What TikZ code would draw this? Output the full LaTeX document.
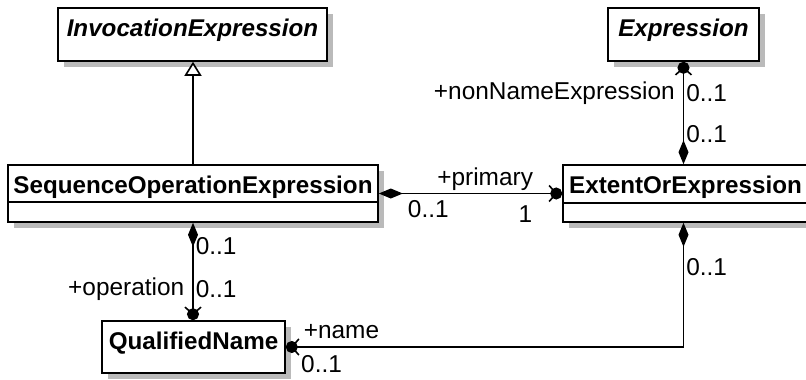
\documentclass[tikz,border=0pt]{standalone}
\usepackage{fontspec}
\setmainfont{Liberation Sans}
\usetikzlibrary{arrows.meta, shadows, positioning, calc}

\begin{document}
\begin{tikzpicture}[
  x=1pt, y=-1pt,
  font=\fontsize{24.4}{29}\selectfont,
  umlclass/.style={rectangle, draw=black, line width=1.6pt, fill=white, general shadow={fill=black!27, shadow xshift=6pt, shadow yshift=-6pt}},
  classname/.style={anchor=north, font=\fontsize{24.2}{29}\selectfont\bfseries, text height=17pt, text depth=5pt, inner ysep=12pt},
  abstractname/.style={classname, font=\fontsize{24.2}{29}\selectfont\bfseries\itshape},
  assoc/.style={line width=1.6pt, {Diamond[length=24pt,width=10pt]}-{Straight Barb[length=7pt,width=16pt,sep=-7pt]Circle[length=12pt]}},
  genarrow/.style={line width=1.6pt, -{Triangle[open,length=14pt,width=17pt,fill=white]}},
  role/.style={inner sep=2pt}
]
\useasboundingbox (0,0) rectangle (806,380);

% Classes
\node[umlclass, minimum width=269pt, minimum height=53pt] (inv) at (192.5,34.5) {};
\node[abstractname] at (inv.north) {InvocationExpression};

\node[umlclass, minimum width=151pt, minimum height=53pt] (expr) at (683.5,34.5) {};
\node[abstractname] at (expr.north) {Expression};

\node[umlclass, minimum width=370pt, minimum height=57pt] (seq) at (193,193.5) {};
\node[classname] at (seq.north) {SequenceOperationExpression};
\draw[line width=1.6pt] ([yshift=-38pt]seq.north west) -- ([yshift=-38pt]seq.north east);

\node[umlclass, minimum width=245pt, minimum height=57pt] (ext) at (685.5,193.5) {};
\node[classname] at (ext.north) {ExtentOrExpression};
\draw[line width=1.6pt] ([yshift=-39pt]ext.north west) -- ([yshift=-39pt]ext.north east);

\node[umlclass, minimum width=183pt, minimum height=52pt] (qn) at (193.5,347) {};
\node[classname] at (qn.north) {QualifiedName};

% Generalization
\draw[genarrow] (seq.north) -- (seq.north |- inv.south);

% Associations
\draw[assoc] (ext.north -| expr.south) -- (expr.south)
  node[pos=0.69, right, role] {0..1}
  node[pos=0.69, left, role, xshift=-6pt] {+nonNameExpression}
  node[pos=0.29, right, role] {0..1};

\draw[assoc] (seq.east) -- (ext.west)
  node[pos=0.58, above, role] {+primary}
  node[pos=0.27, below, role, yshift=-4pt] {0..1}
  node[pos=0.8, below, role, yshift=-9pt] {1};

\draw[assoc] (seq.south) -- (seq.south |- qn.north)
  node[pos=0.24, right, role] {0..1}
  node[pos=0.68, right, role] {0..1}
  node[pos=0.68, left, role, xshift=-6pt] {+operation};

\draw[assoc] (ext.south -| expr.south) |- (qn.east)
  node[pos=0.18, right, role] {0..1}
  node[pos=0.93, above, role, yshift=5pt] {+name}
  node[pos=0.955, below, role, yshift=-6pt] {0..1};

\end{tikzpicture}
\end{document}
